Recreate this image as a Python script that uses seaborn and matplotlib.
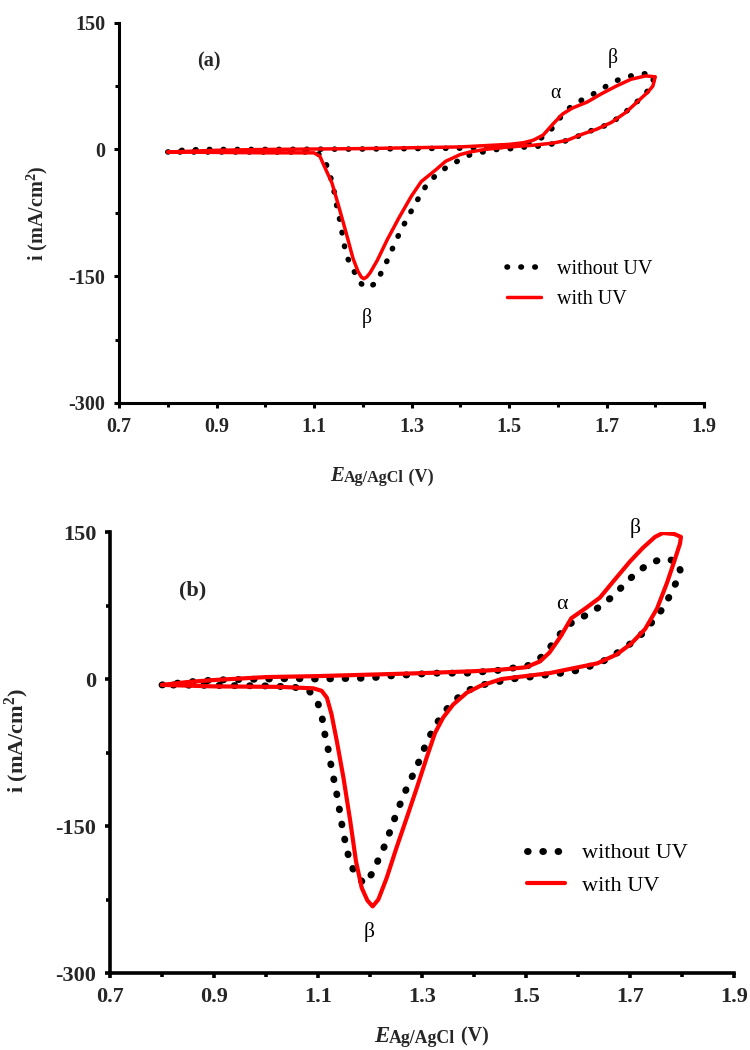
import numpy as np
import pandas as pd
import matplotlib
matplotlib.use('Agg')
import matplotlib.pyplot as plt
import seaborn as sns

# ---------------- data ----------------
# panel (a), without UV (dotted black) : forward sweep then reverse
e_a_dark = [0.80, 0.83, 0.87, 1.00, 1.20, 1.40, 1.45, 1.50, 1.53, 1.555, 1.576, 1.593, 1.613,
            1.637, 1.662, 1.686, 1.711, 1.735, 1.765, 1.789, 1.797,
            1.794, 1.779, 1.755, 1.730, 1.706, 1.676, 1.647, 1.622, 1.593, 1.564, 1.534, 1.505,
            1.475, 1.446, 1.421, 1.397, 1.372, 1.353, 1.333, 1.318, 1.304, 1.289, 1.277, 1.264,
            1.254, 1.240, 1.228, 1.208, 1.195, 1.181, 1.170, 1.163, 1.158, 1.153, 1.147, 1.142,
            1.137, 1.130, 1.122, 1.112, 1.093, 1.00, 0.90, 0.80]
i_a_dark = [-3, -1, 0, 0, 0.5, 1.5, 2.5, 4, 6, 10, 17, 28, 44,
            55, 62, 70, 79, 85, 89, 90, 87,
            75, 66, 52, 40, 30, 24, 17, 11, 7, 4, 3, 1,
            0, -3, -6, -13, -21, -29, -40, -54, -68, -84, -97, -113,
            -127, -143, -158, -164, -158, -143, -130, -116, -100, -84, -68, -52,
            -39, -25, -13, -6, -3, -3, -3, -3]

# panel (a), with UV (red)
e_a_uv = [0.80, 0.85, 0.90, 1.00, 1.10, 1.20, 1.30, 1.40, 1.50, 1.53, 1.55, 1.57, 1.59, 1.61,
          1.63, 1.66, 1.69, 1.72, 1.75, 1.78, 1.80,
          1.795, 1.785, 1.77, 1.74, 1.71, 1.68, 1.65, 1.62, 1.59, 1.55, 1.50, 1.45, 1.42,
          1.40, 1.37, 1.35, 1.32, 1.30, 1.275, 1.25, 1.23, 1.215, 1.208, 1.202, 1.197, 1.190,
          1.18, 1.166, 1.151, 1.137, 1.122, 1.112, 1.10, 1.00, 0.90, 0.80]
i_a_uv = [-3, -2, -1, 0, 0.5, 1, 2, 3, 6, 8, 11, 17, 30, 42,
          49, 56, 66, 75, 83, 87, 86,
          75, 68, 60, 44, 32, 24, 18, 11, 7.5, 5, 3, 0, -3,
          -6, -14, -24, -38, -55, -80, -107, -131, -146, -151, -153, -151, -144,
          -129, -99, -68, -40, -21, -8, -4, -4, -3.5, -3]

# panel (b), without UV
e_b_dark = [0.80, 0.85, 0.90, 1.00, 1.05, 1.10, 1.20, 1.232, 1.28, 1.32, 1.35, 1.386, 1.45,
            1.506, 1.531, 1.550, 1.570, 1.591, 1.619, 1.645, 1.668, 1.688, 1.711, 1.737, 1.764,
            1.792,
            1.797, 1.790, 1.780, 1.766, 1.748, 1.729, 1.706, 1.682, 1.656, 1.628, 1.601, 1.568,
            1.536, 1.499, 1.472, 1.444, 1.416, 1.386, 1.362, 1.342, 1.325, 1.310, 1.299, 1.287,
            1.274, 1.262, 1.251, 1.240, 1.230, 1.217, 1.206, 1.189, 1.171, 1.160, 1.153, 1.147,
            1.142, 1.137, 1.131, 1.125, 1.120, 1.113, 1.108, 1.100, 1.083, 1.052, 1.00,
            0.90, 0.80]
i_b_dark = [-6, -3, -1, 0, 0.5, 0, 1, 3, 4.5, 6, 6, 6, 9,
            14, 23, 35, 49, 59, 66, 75, 85, 96, 108, 118, 123,
            120,
            110, 100, 89, 74, 62, 49, 38, 29, 20, 14, 9, 6,
            4, 1.5, 0, -3, -6, -12, -22, -34, -48, -63, -78, -93,
            -107, -122, -137, -153, -168, -183, -197, -209, -199, -184, -168, -152,
            -136, -120, -104, -88, -73, -56, -40, -25, -12, -8, -7,
            -6.5, -6]

# panel (b), with UV
e_b_uv = [0.80, 0.85, 0.90, 1.00, 1.10, 1.20, 1.30, 1.40, 1.45, 1.50, 1.527, 1.545, 1.566,
          1.587, 1.614, 1.642, 1.670, 1.700, 1.725, 1.748, 1.763, 1.785, 1.798,
          1.796, 1.785, 1.771, 1.752, 1.729, 1.702, 1.674, 1.637, 1.591, 1.545, 1.499, 1.453,
          1.412, 1.386, 1.360, 1.341, 1.325, 1.309, 1.290, 1.271, 1.251, 1.232, 1.216, 1.205,
          1.195, 1.184, 1.173, 1.162, 1.149, 1.136, 1.126, 1.117, 1.107, 1.091, 1.027, 0.90,
          0.80]
i_b_uv = [-6, -3, -1, 2, 3, 4.5, 6, 8, 9.5, 12, 18, 27, 43,
          62, 72, 83, 101, 120, 134, 145, 149, 148, 145,
          138, 120, 98, 72, 51, 36, 25, 16, 11, 6, 3, 0,
          -7, -14, -26, -39, -55, -80, -111, -141, -172, -203, -225, -232,
          -226, -213, -186, -145, -101, -63, -36, -19, -12, -9.5, -8, -7.5,
          -6]

series_names = ['without UV', 'with UV']
x_ticks = [0.7, 0.9, 1.1, 1.3, 1.5, 1.7, 1.9]
y_ticks = [-300, -150, 0, 150]
panel_tags = ['(a)', '(b)']
# greek peak labels: (E, i, text)
peaks_a = [(1.208, -199, 'β'), (1.596, 66, 'α'), (1.712, 108, 'β')]
peaks_b = [(1.198, -258, 'β'), (1.569, 76, 'α'), (1.710, 154, 'β')]

# ---------------- styling ----------------
sns.set_style('ticks')
plt.rcParams['font.family'] = ['Liberation Serif', 'DejaVu Serif']
plt.rcParams['axes.unicode_minus'] = False
plt.rcParams['mathtext.fontset'] = 'custom'
plt.rcParams['mathtext.rm'] = 'Liberation Serif'
plt.rcParams['mathtext.bf'] = 'Liberation Serif:bold'

fig = plt.figure(figsize=(7.5, 10.5), dpi=100)
ax_a = fig.add_axes([0.1587, 0.6162, 0.780, 0.3622])
ax_b = fig.add_axes([0.1467, 0.0733, 0.832, 0.4200])


def draw_panel(ax, e_dark, i_dark, e_uv, i_uv, peaks, tag, s, dot_lw, dot_gap,
               red_lw, spine_lw, leg_xy, ylab_xy, xlab_xy, tag_xy):
    dark = pd.DataFrame({'E': e_dark, 'i': i_dark})
    uv = pd.DataFrame({'E': e_uv, 'i': i_uv})
    sns.lineplot(data=dark, x='E', y='i', sort=False, estimator=None, ax=ax,
                 color='black', linewidth=dot_lw, linestyle=(0, (0.1, dot_gap)),
                 dash_capstyle='round', label=series_names[0])
    sns.lineplot(data=uv, x='E', y='i', sort=False, estimator=None, ax=ax,
                 color='#ff0000', linewidth=red_lw, solid_joinstyle='round',
                 label=series_names[1])

    ax.set_xlim(0.7, 1.9)
    ax.set_ylim(-300, 150)
    ax.set_xticks(x_ticks, [f'{v:.1f}' for v in x_ticks])
    ax.set_yticks(y_ticks, [str(v) for v in y_ticks])
    ax.set_xticks(np.arange(0.8, 1.9, 0.2), minor=True)
    ax.set_yticks([-225, -75, 75], minor=True)
    sns.despine(ax=ax)
    for sp in ['left', 'bottom']:
        ax.spines[sp].set_linewidth(spine_lw)
        ax.spines[sp].set_color('black')
    ax.tick_params(which='major', direction='out', length=3.8, width=spine_lw,
                   labelsize=s, pad=6, color='black')
    ax.tick_params(which='minor', direction='out', length=2.6, width=spine_lw, color='black')
    for lab in ax.get_xticklabels() + ax.get_yticklabels():
        lab.set_fontweight('bold')

    ax.set_xlabel('')
    ax.set_ylabel(r'i (mA/cm$^{\mathbf{2}}$)', fontsize=s * 1.0, fontweight='bold')
    ax.yaxis.set_label_coords(*ylab_xy)

    leg = ax.legend(loc='upper left', bbox_to_anchor=leg_xy, frameon=False,
                    fontsize=s * 1.0, handlelength=1.7, handletextpad=0.8,
                    labelspacing=0.55, borderpad=0, borderaxespad=0)
    for t in leg.get_texts():
        t.set_color('black')

    for x, y, g in peaks:
        ax.text(x, y, g, fontsize=s * 0.98, ha='center', va='center', color='black')
    ax.text(*tag_xy, tag, transform=ax.transAxes, fontsize=s * 1.0,
            fontweight='bold', ha='center', va='center')

    # x label: italic E, smaller Ag/AgCl, then (V)
    t1 = fig.text(xlab_xy[0], xlab_xy[1], 'E', fontsize=s * 1.03, fontstyle='italic',
                  fontweight='bold', ha='left', va='baseline')
    t2 = ax.annotate('Ag/AgCl', xy=(1, 0), xycoords=t1, fontsize=s * 0.8,
                     fontweight='bold', ha='left', va='bottom')
    ax.annotate(' (V)', xy=(1, 0), xycoords=t2, fontsize=s * 0.9,
                fontweight='bold', ha='left', va='bottom')


draw_panel(ax_a, e_a_dark, i_a_dark, e_a_uv, i_a_uv, peaks_a, panel_tags[0],
           s=14.5, dot_lw=4.0, dot_gap=2.4, red_lw=2.5, spine_lw=2.2,
           leg_xy=(0.663, 0.376), ylab_xy=(-0.118, 0.50), xlab_xy=(0.44, 0.542),
           tag_xy=(0.154, 0.897))
draw_panel(ax_b, e_b_dark, i_b_dark, e_b_uv, i_b_uv, peaks_b, panel_tags[1],
           s=16, dot_lw=5.0, dot_gap=2.1, red_lw=3.0, spine_lw=2.6,
           leg_xy=(0.668, 0.295), ylab_xy=(-0.127, 0.528), xlab_xy=(0.4987, 0.008),
           tag_xy=(0.133, 0.868))

fig.savefig('out.png', dpi=100, facecolor='white')
